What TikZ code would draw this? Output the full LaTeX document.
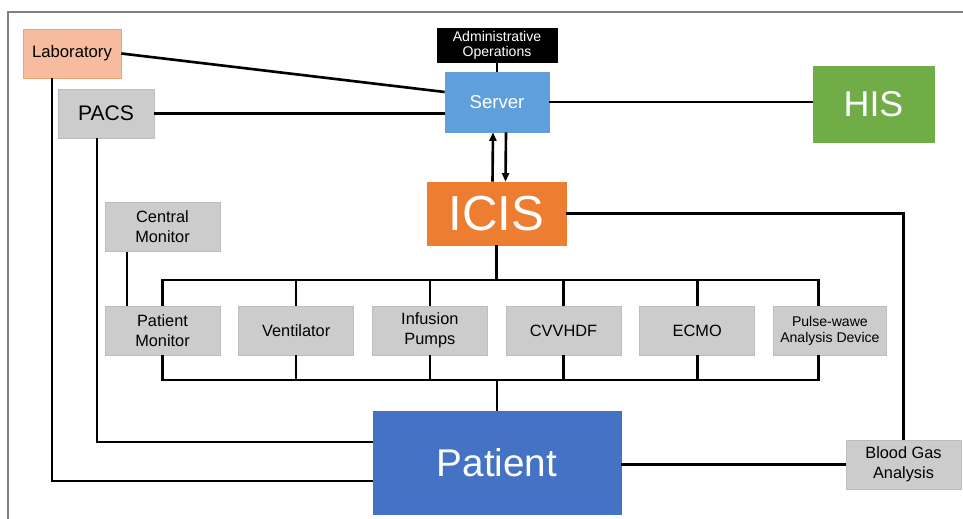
\documentclass[tikz,border=0pt]{standalone}
\usepackage{fontspec}
\setmainfont{Liberation Sans}
\usetikzlibrary{positioning}
\usetikzlibrary{arrows.meta}
\definecolor{labfill}{HTML}{F7BBA0}
\definecolor{labline}{HTML}{F2A26E}
\definecolor{boxgray}{HTML}{CCCCCC}
\definecolor{boxline}{HTML}{BDBDBD}
\definecolor{serverblue}{HTML}{5FA0DC}
\definecolor{icisorange}{HTML}{ED7D31}
\definecolor{hisgreen}{HTML}{70AD47}
\definecolor{patientblue}{HTML}{4472C4}
\tikzset{
  box/.style={draw,inner sep=0pt,align=center},
  graybox/.style={box,draw=boxline,fill=boxgray,minimum width=2.3cm,minimum height=0.98cm,font=\fontsize{9.3}{11.4}\selectfont},
  link/.style={line width=1.5pt},
}
\begin{document}
\begin{tikzpicture}[x=0.02cm,y=-0.02cm,node distance=0.36cm]
  \useasboundingbox (0,0) rectangle (963,519);
  \draw[gray,line width=0.6pt] (8,519) -- (8,12) -- (963,12);
  \node[box,draw=labline,fill=labfill,minimum width=1.96cm,minimum height=0.98cm,font=\fontsize{9.5}{11}\selectfont](lab) at (72,53.5) {Laboratory};
  \node[graybox,minimum width=1.92cm,font=\fontsize{12}{14}\selectfont](pacs) at (106,113.5) {PACS};
  \node[box,fill=black,text=white,minimum width=2.4cm,minimum height=0.68cm,font=\fontsize{8}{8.5}\selectfont](admin) at (497,45.5) {Administrative\\Operations};
  \node[box,draw=serverblue,fill=serverblue,text=white,minimum width=2.08cm,minimum height=1.2cm,font=\fontsize{10.6}{12}\selectfont](server) at (497,102) {Server};
  \node[box,draw=hisgreen,fill=hisgreen,text=white,minimum width=2.42cm,minimum height=1.52cm,font=\fontsize{20.4}{22}\selectfont](his) at (873.5,104) {HIS};
  \node[box,draw=icisorange,fill=icisorange,text=white,minimum width=2.78cm,minimum height=1.26cm,font=\fontsize{28}{30}\selectfont](icis) at (496.5,213.5) {ICIS};
  \node[graybox](cm) at (162.5,227) {Central\\Monitor};
  \node[graybox](pm) at (162.5,330.5) {Patient\\Monitor};
  \node[graybox,right=of pm](vent) {Ventilator};
  \node[graybox,right=of vent](inf) {Infusion\\Pumps};
  \node[graybox,right=of inf](cvv) {CVVHDF};
  \node[graybox,right=of cvv](ecmo) {ECMO};
  \node[graybox,right=of ecmo,minimum width=2.26cm,font=\fontsize{8}{9}\selectfont](pwa) {Pulse-wawe\\Analysis Device};
  \node[box,draw=patientblue,fill=patientblue,text=white,minimum width=4.96cm,minimum height=2.06cm,font=\fontsize{22}{24}\selectfont](patient) at (497,463) {Patient};
  \node[graybox,font=\fontsize{9.3}{11.2}\selectfont](bga) at (903.5,464.5) {Blood Gas\\Analysis};
  \coordinate (busT) at (0,280);
  \coordinate (busB) at (0,380);
  \coordinate (pwaT) at ([xshift=-0.23cm]pwa.north);
  \coordinate (pwaB) at ([xshift=-0.23cm]pwa.south);
  % server connections
  \draw[link] (lab.east) -- ([yshift=0.2cm]server.west);
  \draw[link] (pacs.east) -- (pacs.east -| server.west);
  \draw[link] (admin.south) -- (server.north);
  \draw[link] (server.east) -- (server.east -| his.west);
  \draw[link,-{Triangle[length=1.7mm,width=1.4mm]}] ([xshift=-0.08cm]icis.north) -- ([xshift=-0.08cm]server.south);
  \draw[link,-{Triangle[length=1.7mm,width=1.4mm]}] ([xshift=0.18cm]server.south) -- ([xshift=0.18cm]icis.north);
  % device bus
  \draw[link] (pm.north) |- (pwaT |- busT) -- (pwaT);
  \draw[link] (pm.south) |- (pwaB |- busB) -- (pwaB);
  \draw[link] (vent.north) -- (vent.north |- busT);
  \draw[link] (inf.north) -- (inf.north |- busT);
  \draw[link] (cvv.north) -- (cvv.north |- busT);
  \draw[link] (ecmo.north) -- (ecmo.north |- busT);
  \draw[link] (vent.south) -- (vent.south |- busB);
  \draw[link] (inf.south) -- (inf.south |- busB);
  \draw[link] (cvv.south) -- (cvv.south |- busB);
  \draw[link] (ecmo.south) -- (ecmo.south |- busB);
  \draw[link] (icis.south) -- (icis.south |- busT);
  \draw[link] (patient.north) -- (patient.north |- busB);
  \draw[link] ([xshift=-0.71cm]cm.south) -- ([xshift=-0.71cm]pm.north);
  % patient side
  \draw[link] (icis.east) -| (bga.north);
  \draw[link] (bga.west) -- (bga.west -| patient.east);
  \draw[link] ([xshift=-0.18cm]pacs.south) |- ([yshift=0.42cm]patient.west);
  \draw[link] ([xshift=-0.4cm]lab.south) |- ([yshift=-0.36cm]patient.west);
\end{tikzpicture}
\end{document}
